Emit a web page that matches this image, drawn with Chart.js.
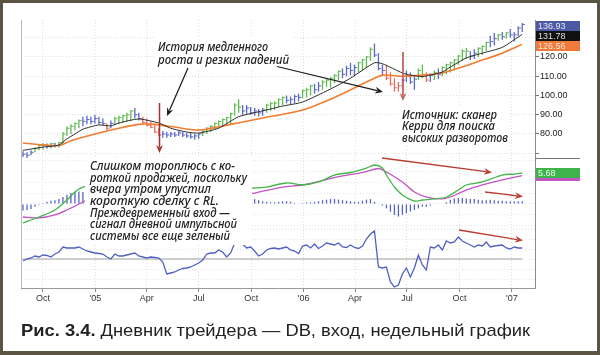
<!DOCTYPE html>
<html><head><meta charset="utf-8">
<script src="https://cdn.jsdelivr.net/npm/chart.js@4.4.1/dist/chart.umd.min.js"></script>
<style>
html,body{margin:0;padding:0;background:#fff;}
#wrap{position:relative;width:600px;height:355px;overflow:hidden;background:#fff;}
#cw{position:absolute;left:0;top:0;width:600px;height:310px;}
#frame{position:absolute;left:0;top:0;width:600px;height:355px;box-sizing:border-box;border:3px solid #5b5444;border-bottom-width:4px;pointer-events:none;z-index:10;}
#ann{position:absolute;left:0;top:0;z-index:5;}
#cap{position:absolute;left:21px;top:321px;font-family:"Liberation Sans",Arial,sans-serif;font-size:17px;color:#222;white-space:nowrap;z-index:6;transform-origin:0 0;}
#cap b{font-weight:bold;}
.hw{font-family:"Noto Sans","DejaVu Sans",sans-serif;font-style:italic;font-weight:500;font-size:12.5px;fill:#222;}
</style></head>
<body><div id="wrap">
<div id="cw"><canvas id="c" width="600" height="310"></canvas></div>
<svg id="ann" width="600" height="355" xmlns="http://www.w3.org/2000/svg">
  <rect x="155" y="37" width="138" height="32" fill="#fff"/>
  <rect x="398" y="106" width="112" height="40" fill="#fff"/>
  <rect x="85" y="157" width="167" height="88" fill="#fff"/>
  <g class="hw">
    <text x="158" y="50.5" textLength="110" lengthAdjust="spacingAndGlyphs">История медленного</text>
    <text x="158" y="63.5" textLength="131" lengthAdjust="spacingAndGlyphs">роста и резких падений</text>
    <text x="402" y="118.5" textLength="95" lengthAdjust="spacingAndGlyphs">Источник: сканер</text>
    <text x="402" y="130.3" textLength="93" lengthAdjust="spacingAndGlyphs">Керри для поиска</text>
    <text x="402" y="142" textLength="106" lengthAdjust="spacingAndGlyphs">высоких разворотов</text>
    <text x="90" y="170" textLength="145" lengthAdjust="spacingAndGlyphs">Слишком тороплюсь с ко-</text>
    <text x="90" y="181.7" textLength="157" lengthAdjust="spacingAndGlyphs">роткой продажей, поскольку</text>
    <text x="90" y="193.3" textLength="121" lengthAdjust="spacingAndGlyphs">вчера утром упустил</text>
    <text x="90" y="205" textLength="129" lengthAdjust="spacingAndGlyphs">короткую сделку с RL.</text>
    <text x="90" y="216.7" textLength="140" lengthAdjust="spacingAndGlyphs">Преждевременный вход —</text>
    <text x="90" y="228.3" textLength="147" lengthAdjust="spacingAndGlyphs">сигнал дневной импульсной</text>
    <text x="90" y="240" textLength="140" lengthAdjust="spacingAndGlyphs">системы все еще зеленый</text>
  </g>
  <g id="arrows"></g>
</svg>
<div id="cap"><b>Рис. 3.4.</b> Дневник трейдера — DB, вход, недельный график</div>
<div id="frame"></div>
</div>
<script>
// ---------- DATA (weekly, week 0 = late Aug 2004) ----------
const weekTicks = [5, 18.14, 31, 44, 57.14, 70.28, 83.14, 96.14, 109.28, 122.42];
const weekTickLabels = ['Oct', "'05", 'Apr', 'Jul', 'Oct', "'06", 'Apr', 'Jul', 'Oct', "'07"];
const priceTicks = [70, 80, 90, 100, 110, 120, 130];
const priceTickLabels = ['', '80.00', '90.00', '100.00', '110.00', '120.00', ''];
const macdGrid = [-4, -2, 0, 2, 4, 6, 8];
const forceGrid = [-2, -1, 0, 1, 2, 3];

const highs = [71,70.5,71.5,73,74.5,75.3,75,75.5,75.5,76,
81,84,85,86,87.5,89,89.5,89,90,89,
88,85.5,87,89,89.5,90,91,92.5,93.5,91,
89,88,86.5,85,83,81.5,81,81,81,81.5,
81,80.5,80.5,80,80.5,82,83.5,84.5,86,87,
88,89,91,96,98,95,95,94,93.5,93,
93.5,95.5,96.5,97,98.5,99.5,100,99.5,100.5,101,
103,104,105.5,106,107,108,109,109.5,111,113,
114,115.5,117,116,117.5,119,120.5,125,127,122,
116,116,112,109,107,109,113,112,110,114,
116,112,111.5,113,114,115,116.5,117.5,119,121,
124,124.7,123,124,125,126,128,131,132.5,132,
133,133,134.5,133,136,137.6];
const lows = [68,67.5,69,70.5,71.5,72,72.5,72.5,73,73,
74.5,79,80,82,83,84,85,85,85.5,85,
84.5,82,83,84.5,85,86,86.5,87,88,87,
85.5,84,83,80.5,79,78,78,78.5,78.5,79,
78.5,78,77.5,77,77.5,79,80,81,82.5,83.5,
84,85,85,89.5,91,90,90.5,90,89.5,89,
89.5,91,92,92.5,94,95,96,95.5,96,97,
98.5,99,100,101,102,103,104.5,104,106.5,108,
109,110,110.5,110,112,113,114.5,118,120,113,
110,108,105,102,102,104,107,106,103,108,
109,107,107,108,108.5,110,111,112,113,116,
118,119,118.5,119,120,121,123,125,126,128.5,
129,129.5,130,128,131,133];
const closes = [69.5,69,70.5,72.5,74,74.5,73.5,75,74,75.5,
80,83,84,85.5,87,86.5,87.5,86.5,88,86,
85.5,83,85.5,88,88.5,89.5,90,92,90,88,
86,84.5,83.5,81,79.5,80,79.5,80,79.5,80.5,
79.5,79,78.5,79,80,81.5,83,84,85.5,86.5,
87.5,88.5,90.5,95,94,92,93.5,91,92,91,
92.5,95,96,96,98,99,97.5,98,99.5,99,
102.5,103,105,103,105,107,108,109,110.5,112.5,
111,114,113,114.5,117,118.5,120,124,121,114,
113,109,106,104,105,108,110,107,108.5,113,
111,108,110.5,112,111,114.5,116,117,118.5,120.5,
123,123,120.5,122,124.5,125.5,127.5,128,129.5,131.5,
130.5,132.5,131.5,131.5,135,136.93];
// impulse system colour of each weekly bar: g = green, r = red, b = blue
const impulse = ('bbbgggbgbg' + 'gggggbbbbb' + 'brbgggggbb' + 'rrrrrbbbbb' + 'bbbbbggggg' +
  'gggggbbbbb' + 'bgggggbbbb' + 'gggbbggggg' + 'bbbbggggbb' + 'brrrrbbbbg' +
  'grbgbggggg' + 'ggbbgggbbg' + 'bgbbbb').split('');

const emaFastWeeks = [0,5,9,11,13,15,19,22,24,29,34,37,41,44,49,54,60,65,70,78,82,88,90,95,97,100,102,105,107,111,115,120,125];
const emaFast = [71.5,73.2,74.3,77.5,80,82.5,84.7,84.2,85.7,87.8,85.7,83,81,80.5,83,89,92,94.5,96.6,104.4,109,117,116.5,111.7,110.6,109.8,110.6,112.2,114.8,119.5,122,125,131.78];
const emaSlowWeeks = [0,5,9,12,19,24,29,33,38,44,52,60,70,78,86,90,95,100,105,110,115,120,125];
const emaSlow = [75.3,74.3,74.0,76.5,80.5,83,85,85,83.6,82,85,88.3,92.5,99,107,110.6,110,110.6,111.7,114.8,118.4,122,126.56];

const macdWeeks = [0,4,8,11,13,15,20,25,30,35,40,45,50,55,58,61,66,70,74,78,82,86,88,90,91,93,95,98,100,103,106,109,111,115,120,123,125];
const macdLine = [-3.48,-2.38,-1.1,0.73,2.2,3.1,3.8,3.5,3.2,1.5,-0.5,-0.8,0.8,2.5,2.93,3.11,3.85,3.48,4.03,5.31,5.77,6.59,7.14,6.59,5.31,3.11,1.65,0.55,0.73,0.92,1.28,2.56,3.48,4.03,5.31,5.49,5.68];
const signalWeeks = [0,4,8,11,15,20,25,30,35,40,45,50,55,58,65,70,78,86,89,91,95,98,101,105,107,111,115,120,125];
const signalLine = [-2.38,-2.56,-2.01,-1.1,0.37,2.5,3.3,3.3,2.5,1.0,-0.2,0.2,1.6,2.01,3.11,3.48,4.85,5.95,6.5,5.86,4.03,2.2,1.28,0.92,1.28,2.56,3.48,4.4,5.2];
const macdHist = [-1.2,-1.1,-0.9,-0.5,-0.2,0.2,0.4,0.6,0.7,0.9,
1.3,1.7,2.0,2.2,2.3,2.2,2.0,1.8,1.6,1.4,
1.2,0.9,0.7,0.5,0.4,0.3,0.2,0.1,0.1,-0.1,
-0.3,-0.6,-0.8,-1.0,-1.2,-1.3,-1.4,-1.4,-1.3,-1.2,
-1.0,-0.8,-0.7,-0.5,-0.3,-0.1,0.1,0.3,0.5,0.6,
0.7,0.8,0.9,1.0,1.1,1.0,0.9,0.8,0.9,0.7,
0.5,0.4,0.3,0.3,0.4,0.5,0.5,0.4,0.2,0.1,
0.2,0.3,0.3,0.4,0.5,0.7,0.8,0.9,0.9,0.8,
0.7,0.6,0.5,0.4,0.4,0.6,0.8,0.9,0.4,-0.1,
-0.3,-0.8,-1.4,-2.0,-2.3,-2.0,-1.7,-1.4,-1.1,-0.8,
-0.5,-0.5,-0.3,-0.1,0.1,0.1,0.3,0.8,1.0,1.1,
1.1,1.0,0.9,0.9,0.8,0.7,0.7,0.8,0.7,0.6,
0.6,0.5,0.5,0.5,0.5,0.5];
const forceIndex = [-0.2,0,0.1,0.3,0.2,0.4,0.35,0.2,0.5,0.7,
1.2,1.1,1.1,1.1,1.2,1.0,0.8,0.7,0.6,0.55,
0.5,0.2,0,0.5,0.3,0.3,0.4,0.5,0.6,0.3,
0.2,0.1,0.2,0.15,0.1,-0.3,-1.5,-1.4,-1.3,-1.1,
-0.95,-0.9,-0.8,-0.6,-0.4,-0.1,0.5,0.6,0.6,0.9,
0.7,0.2,0.6,1.6,2.1,1.5,1.1,1.2,0.8,0.3,
0.5,0.9,1.05,1.1,1.0,1.1,1.2,0.9,0.8,0.55,
1.3,1.4,1.1,1.5,1.05,1.3,1.6,1.5,1.4,1.6,
1.2,1.15,1.4,1.15,1.05,1.3,2.0,2.5,2.8,-0.8,
-0.9,-0.8,-2.3,-2.8,-2.6,-1.5,-0.9,-1.8,-0.9,0.4,
-0.6,-1.1,1.2,1.1,1.4,0.9,1.8,1.6,1.7,2.2,
1.8,1.6,1.4,1.2,1.4,1.3,1.7,1.2,1.3,1.35,
1.4,1.1,1.0,1.2,1.1,1.1];
const forceZeroWeeks = [-0.5, 125];
const lastPrice = 136.93, lastEmaFast = 131.78, lastEmaSlow = 126.56, lastMacd = 5.68, lastSignal = 5.2;

// ---------- STYLES ----------
const impulseColors = {g: '#5fbb52', r: '#e66c5e', b: '#5b68c6'};
const FONT = '"Liberation Sans", Arial, sans-serif';
const closeTickShift = 0.35;

const pts = (xs, ys) => xs.map((x, i) => ({x: x, y: ys[i]}));
const weekIdx = highs.map((_, i) => i);
const barColors = impulse.map(c => impulseColors[c]);

const decor = {
  id: 'decor',
  afterDraw(chart) {
    const {ctx, chartArea: a, scales} = chart;
    const yP = scales.yP, yM = scales.yM;
    ctx.save();
    ctx.lineWidth = 1;
    ctx.strokeStyle = '#b8b8b8';
    ctx.beginPath(); ctx.moveTo(a.left + 0.5, a.top); ctx.lineTo(a.left + 0.5, a.bottom); ctx.stroke();
    ctx.strokeStyle = '#777';
    const sy = Math.round(yP.bottom) + 0.5;
    ctx.beginPath(); ctx.moveTo(a.right, sy); ctx.lineTo(a.right + 45, sy); ctx.stroke();
    const box = (scale, val, nudge, bg, fg, txt) => {
      const y = scale.getPixelForValue(val) + nudge;
      ctx.fillStyle = bg;
      ctx.fillRect(a.right + 1, Math.round(y - 5), 44, 10);
      if (txt) {
        ctx.fillStyle = fg; ctx.font = '9px ' + FONT; ctx.textBaseline = 'middle'; ctx.textAlign = 'left';
        ctx.fillText(txt, a.right + 3, y + 0.5);
      }
    };
    box(yP, lastPrice, 2, '#4c59a4', '#e6e6ee', lastPrice.toFixed(2));
    box(yP, lastEmaFast, 2, '#111111', '#dddddd', lastEmaFast.toFixed(2));
    box(yP, lastEmaSlow, 2, '#f07a3a', '#fbe6da', lastEmaSlow.toFixed(2));
    box(yM, lastSignal, 0, '#c455c4', '#fff', '');
    box(yM, lastMacd, 0, '#3cb44a', '#f4fff4', lastMacd.toFixed(2));
    ctx.restore();
  }
};

const yBase = {
  type: 'linear', position: 'right', stack: 'panes', offset: false,
  afterFit: s => { s.width = 65; },
  border: {color: '#8a8a8a', dash: [1, 2]},
};

new Chart(document.getElementById('c'), {
  type: 'bar',
  data: {
    datasets: [
      {type: 'line', yAxisID: 'yP', data: pts(emaFastWeeks, emaFast), borderColor: '#2b2b2b', borderWidth: 1, pointRadius: 0, tension: 0.2, order: 1},
      {type: 'line', yAxisID: 'yP', data: pts(emaSlowWeeks, emaSlow), borderColor: '#f47c30', borderWidth: 1.6, pointRadius: 0, tension: 0.2, order: 2},
      {type: 'bar', yAxisID: 'yP', data: weekIdx.map(i => ({x: i, y: [lows[i], highs[i]]})),
        backgroundColor: barColors, barThickness: 1.3, inflateAmount: 0, grouped: false, order: 5},
      {type: 'line', yAxisID: 'yP', showLine: false, data: weekIdx.map(i => ({x: i + closeTickShift, y: closes[i]})),
        pointStyle: 'line', pointRadius: 1.3, pointBorderWidth: 1, pointBorderColor: barColors, pointBackgroundColor: barColors, order: 4},
      {type: 'line', yAxisID: 'yM', data: pts(macdWeeks, macdLine), borderColor: '#45b548', borderWidth: 1.3, pointRadius: 0, tension: 0.3, order: 1},
      {type: 'line', yAxisID: 'yM', data: pts(signalWeeks, signalLine), borderColor: '#c452c4', borderWidth: 1.3, pointRadius: 0, tension: 0.3, order: 2},
      {type: 'bar', yAxisID: 'yM', data: weekIdx.map(i => ({x: i, y: macdHist[i]})),
        backgroundColor: '#5666c6', barThickness: 1.3, inflateAmount: 0, grouped: false, order: 5},
      {type: 'line', yAxisID: 'yF', data: pts(forceZeroWeeks, [0, 0]), borderColor: '#a0a0a0', borderWidth: 1, pointRadius: 0, order: 3},
      {type: 'line', yAxisID: 'yF', data: pts(weekIdx, forceIndex), borderColor: '#5060c2', borderWidth: 1.3, pointRadius: 0, tension: 0, order: 1}
    ]
  },
  options: {
    responsive: false, animation: false,
    layout: {padding: {left: 21, top: 20, right: 0, bottom: 0}},
    plugins: {legend: {display: false}, tooltip: {enabled: false}},
    scales: {
      x: {
        type: 'linear', min: -0.5, max: 128.2, offset: false,
        afterBuildTicks: s => { s.ticks = weekTicks.map(v => ({value: v})); },
        afterFit: s => { s.height = 22; },
        ticks: {autoSkip: false, maxRotation: 0, padding: 1, color: '#333', font: {family: FONT, size: 9},
          callback: (v, i) => weekTickLabels[i]},
        grid: {offset: false, color: '#dedede', tickLength: 4, tickColor: '#8a8a8a', drawTicks: true},
        border: {color: '#9a9a9a', dash: [1, 2]}
      },
      yP: Object.assign({}, yBase, {
        stackWeight: 138, min: 67.53, max: 139.22,
        afterBuildTicks: s => { s.ticks = priceTicks.map(v => ({value: v})); },
        ticks: {autoSkip: false, padding: 1, color: '#222', font: {family: FONT, size: 9}, callback: (v, i) => priceTickLabels[i]},
        grid: {color: '#dedede', tickLength: 4, tickColor: '#777', drawTicks: true}
      }),
      yM: Object.assign({}, yBase, {
        stackWeight: 68, min: -4.03, max: 8.425,
        afterBuildTicks: s => { s.ticks = macdGrid.map(v => ({value: v})); },
        ticks: {display: false},
        grid: {color: '#e4e4e4', drawTicks: false}
      }),
      yF: Object.assign({}, yBase, {
        stackWeight: 62, min: -2.9, max: 3.3,
        afterBuildTicks: s => { s.ticks = forceGrid.map(v => ({value: v})); },
        ticks: {display: false},
        grid: {color: '#e4e4e4', drawTicks: false}
      })
    }
  },
  plugins: [decor]
});

// ---------- annotation arrows ----------
const arrowDefs = [
  {x1: 188, y1: 68, x2: 167, y2: 116, c: '#1e1e1e', w: 1.2},
  {x1: 277, y1: 66.5, x2: 383, y2: 92, c: '#1e1e1e', w: 1.2},
  {x1: 159.5, y1: 103, x2: 159.5, y2: 153, c: '#a8322d', w: 1.5},
  {x1: 403, y1: 52, x2: 403, y2: 101, c: '#c4625c', w: 1.8},
  {x1: 382, y1: 158, x2: 492, y2: 172.5, c: '#b83c30', w: 1.3},
  {x1: 485, y1: 192, x2: 523, y2: 196.5, c: '#b83c30', w: 1.3},
  {x1: 459, y1: 230, x2: 523, y2: 240.5, c: '#b83c30', w: 1.3}
];
const NS = 'http://www.w3.org/2000/svg';
const g = document.getElementById('arrows');
arrowDefs.forEach(d => {
  const dx = d.x2 - d.x1, dy = d.y2 - d.y1, L = Math.hypot(dx, dy);
  const ux = dx / L, uy = dy / L, hl = 8, hw = 3.4;
  const bx = d.x2 - ux * hl, by = d.y2 - uy * hl;
  const line = document.createElementNS(NS, 'line');
  line.setAttribute('x1', d.x1); line.setAttribute('y1', d.y1);
  line.setAttribute('x2', bx + ux * 2); line.setAttribute('y2', by + uy * 2);
  line.setAttribute('stroke', d.c); line.setAttribute('stroke-width', d.w);
  g.appendChild(line);
  const poly = document.createElementNS(NS, 'polygon');
  poly.setAttribute('points', `${d.x2},${d.y2} ${bx - uy * hw},${by + ux * hw} ${bx + ux * 2.5},${by + uy * 2.5} ${bx + uy * hw},${by - ux * hw}`);
  poly.setAttribute('fill', d.c);
  g.appendChild(poly);
});

// fit caption to the reference width
function fitCaption() {
  const cap = document.getElementById('cap');
  cap.style.transform = 'none';
  const w = cap.getBoundingClientRect().width;
  if (w > 0) cap.style.transform = 'scaleX(' + (509 / w) + ')';
}
fitCaption();
if (document.fonts && document.fonts.ready) document.fonts.ready.then(fitCaption);
</script>
</body></html>
